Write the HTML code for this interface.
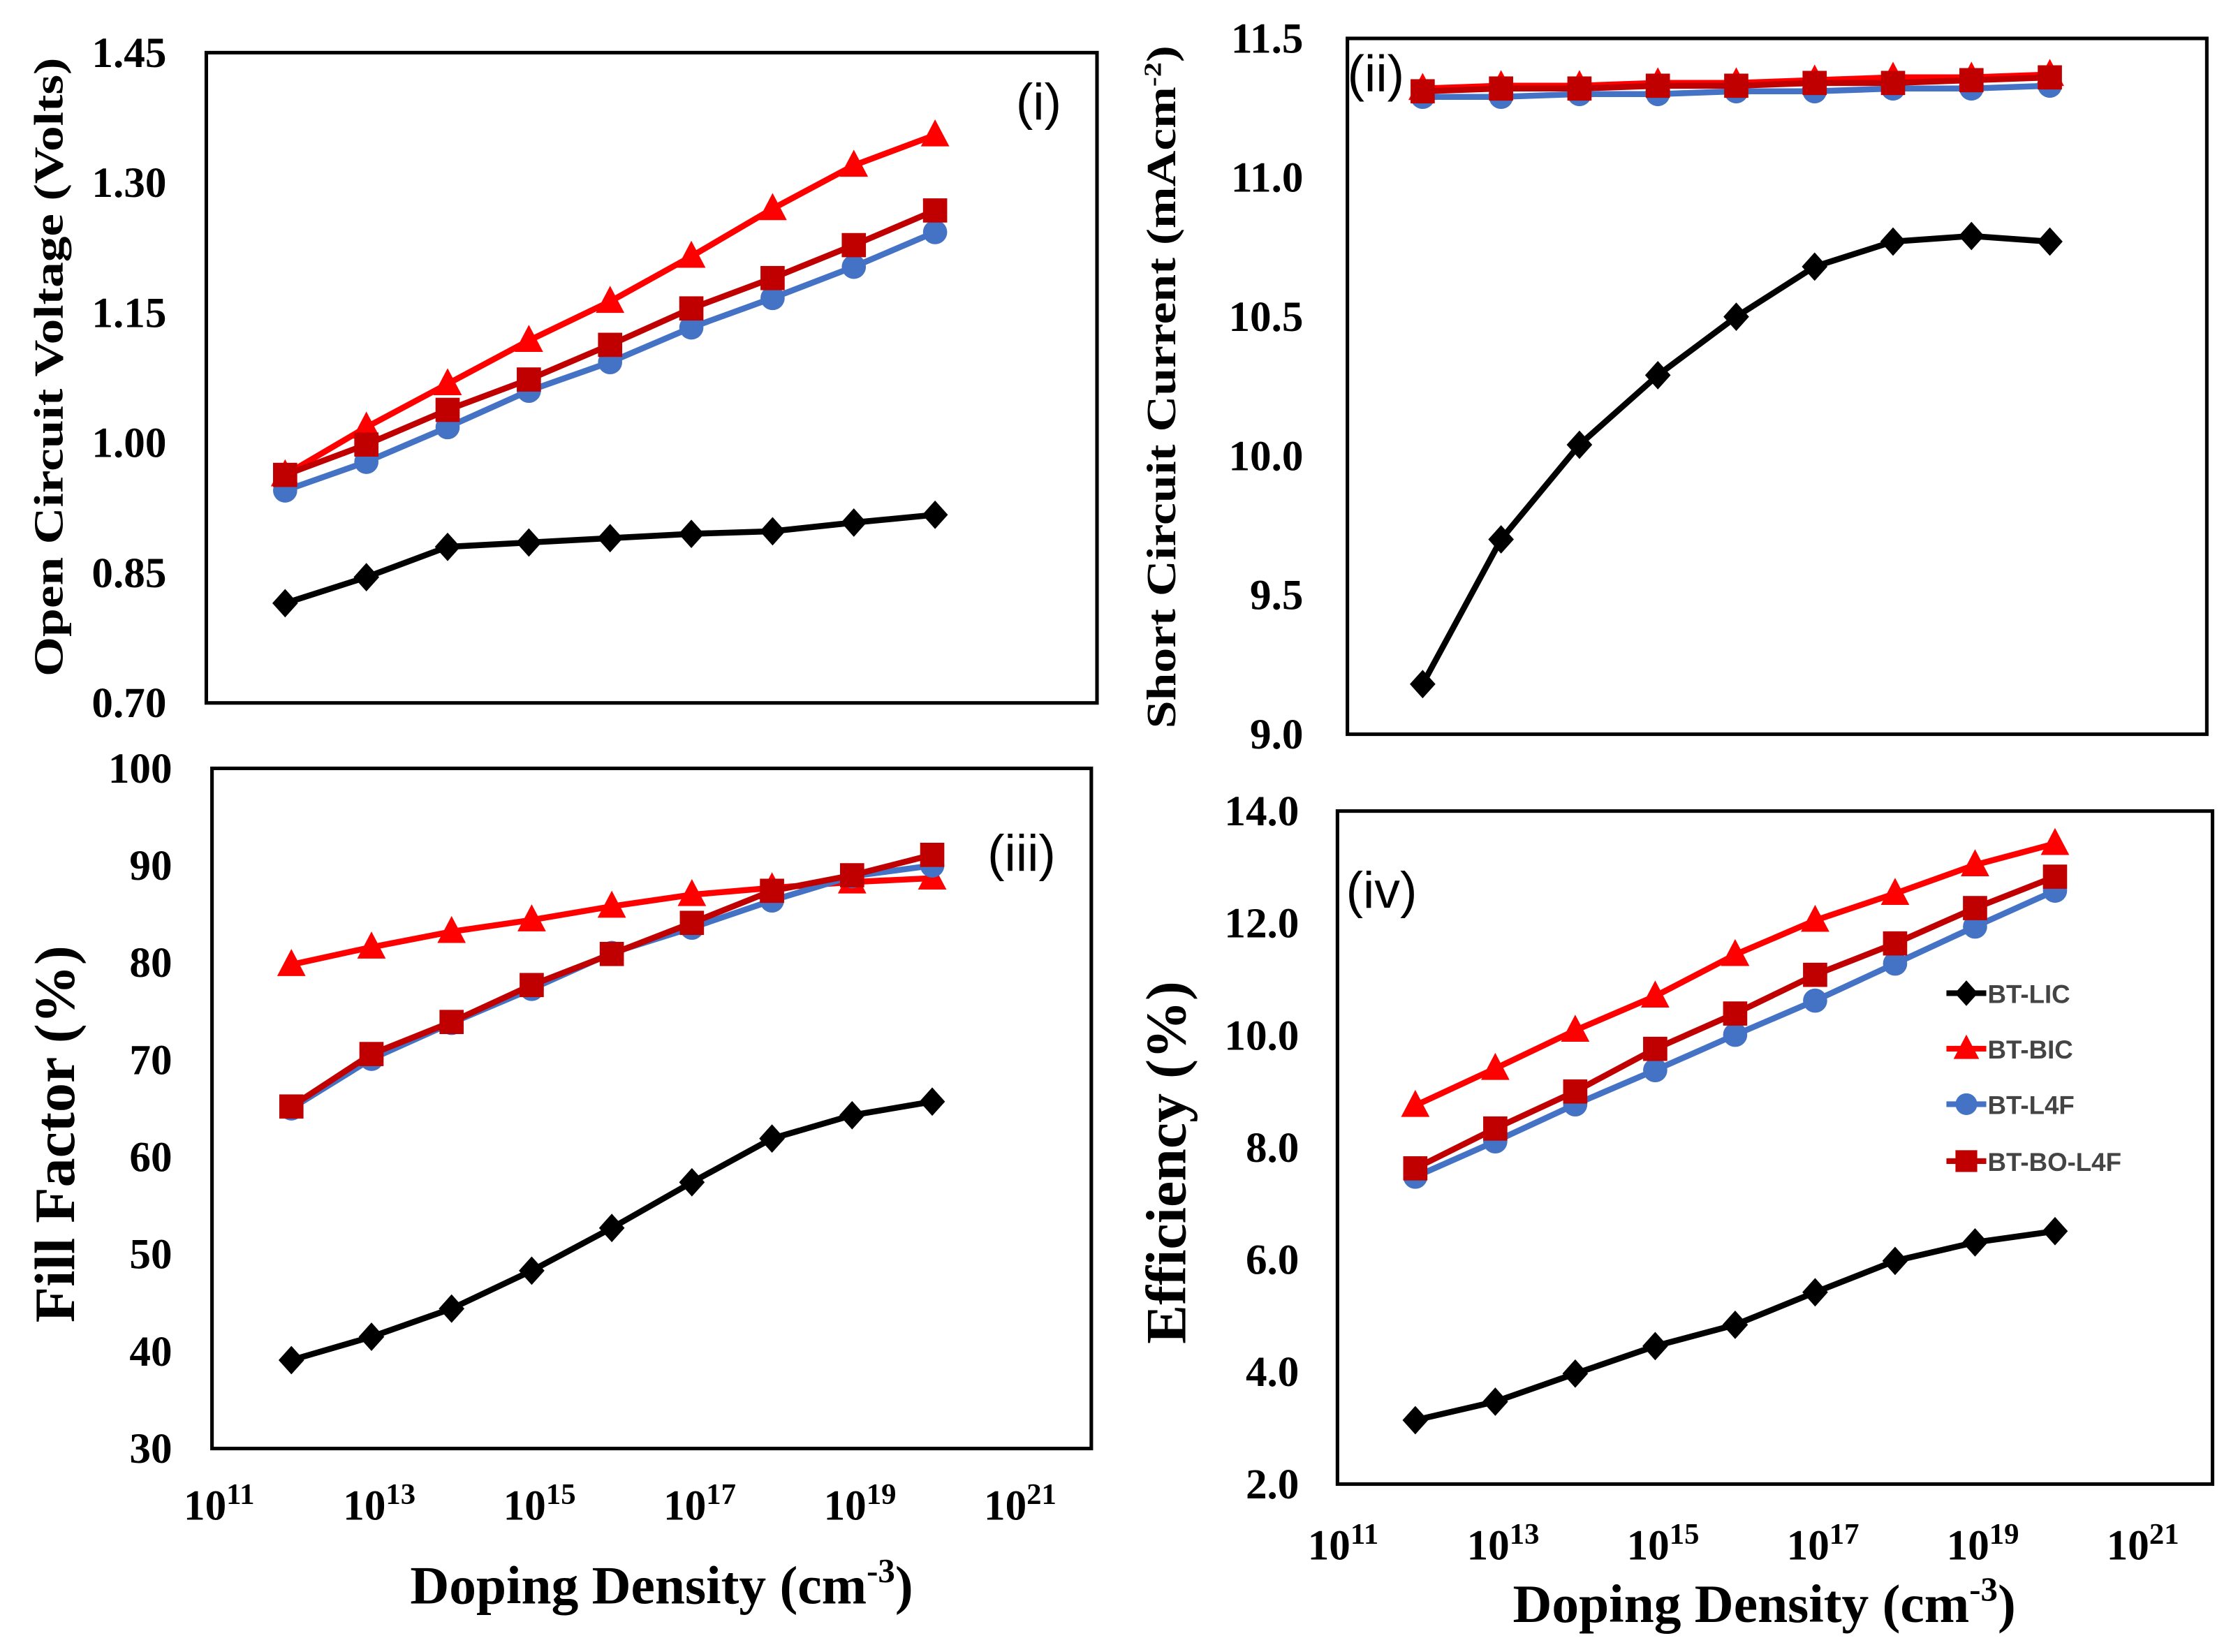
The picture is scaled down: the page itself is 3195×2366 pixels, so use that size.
<!DOCTYPE html>
<html><head><meta charset="utf-8"><style>
html,body{margin:0;padding:0;background:#fff;}
svg{display:block;}
.tick{font-family:"Liberation Serif",serif;font-weight:bold;font-size:30px;fill:#000;}
.ttl{font-family:"Liberation Serif",serif;font-weight:bold;fill:#000;}
.pl{font-family:"Liberation Sans",sans-serif;font-size:36px;fill:#000;}
.leg{font-family:"Liberation Sans",sans-serif;font-weight:bold;font-size:18px;fill:#444;}
</style></head><body>
<svg id="chart" width="3195" height="2366" viewBox="0 0 1568 1161" preserveAspectRatio="none" xmlns="http://www.w3.org/2000/svg"></svg>
<script>
// shared x data: log10 doping density
const dopingExp = [11.76,12.76,13.76,14.76,15.76,16.76,17.76,18.76,19.76];
const seriesNames = ["BT-LIC","BT-BIC","BT-L4F","BT-BO-L4F"];
// panel i: Voc
const vocLIC = [0.815,0.845,0.880,0.885,0.890,0.895,0.898,0.908,0.917];
const vocBIC = [0.963,1.018,1.068,1.118,1.163,1.215,1.270,1.320,1.355];
const vocL4F = [0.945,0.978,1.018,1.060,1.093,1.133,1.167,1.203,1.243];
const vocBO  = [0.963,0.998,1.038,1.073,1.113,1.155,1.190,1.228,1.268];
const vocTicks = ["0.70","0.85","1.00","1.15","1.30","1.45"];
// panel ii: Jsc
const jscLIC = [9.18,9.70,10.04,10.29,10.50,10.68,10.77,10.79,10.77];
const jscBIC = [11.32,11.33,11.33,11.34,11.34,11.35,11.36,11.36,11.37];
const jscL4F = [11.29,11.29,11.30,11.30,11.31,11.31,11.32,11.32,11.33];
const jscBO  = [11.31,11.32,11.32,11.33,11.33,11.34,11.34,11.35,11.36];
const jscTicks = ["9.0","9.5","10.0","10.5","11.0","11.5"];
// panel iii: FF
const ffLIC = [39.1,41.5,44.4,48.3,52.7,57.4,61.9,64.3,65.7];
const ffBIC = [79.8,81.6,83.2,84.4,85.8,87.0,87.7,88.3,88.7];
const ffL4F = [65.0,70.1,73.8,77.3,81.0,83.6,86.4,88.9,90.0];
const ffBO  = [65.2,70.6,73.9,77.7,80.9,84.1,87.4,89.0,91.1];
const ffTicks = ["30","40","50","60","70","80","90","100"];
// panel iv: efficiency
const effLIC = [3.14,3.47,3.97,4.46,4.84,5.42,5.98,6.31,6.51];
const effBIC = [8.75,9.41,10.09,10.70,11.44,12.05,12.53,13.04,13.42];
const effL4F = [7.48,8.11,8.77,9.38,10.01,10.62,11.28,11.94,12.58];
const effBO  = [7.63,8.34,9.00,9.76,10.39,11.08,11.64,12.27,12.83];
const effTicks = ["2.0","4.0","6.0","8.0","10.0","12.0","14.0"];
const xTickExp = [11,13,15,17,19,21];

const NS="http://www.w3.org/2000/svg";
const svg=document.getElementById('chart');
function mk(tag,attrs,parent){const e=document.createElementNS(NS,tag);for(const k in attrs)e.setAttribute(k,attrs[k]);(parent||svg).appendChild(e);return e;}
const colors=["#000000","#ff0000","#4472c4","#c00000"];
const shapes=["diamond","triangle","circle","square"];

function marker(g,shape,x,y,c,s){
  s=s||1;
  let e;
  if(shape==="diamond") e=mk('polygon',{points:`${x},${y-10*s} ${x+9*s},${y} ${x},${y+10*s} ${x-9*s},${y}`,fill:c},g);
  else if(shape==="triangle") e=mk('polygon',{points:`${x},${y-11*s} ${x+10*s},${y+8*s} ${x-10*s},${y+8*s}`,fill:c},g);
  else if(shape==="circle") e=mk('circle',{cx:x,cy:y,r:8.5*s,fill:c},g);
  else e=mk('rect',{x:x-8.5*s,y:y-8.5*s,width:17*s,height:17*s,fill:c},g);
  return e;
}

function panel(p){
  const g=mk('g',{});
  
  
  const xs=e=>p.x0+(e-11)*p.dec;
  const ys=v=>p.bot-(v-p.ymin)/(p.ymax-p.ymin)*(p.bot-p.top);
  const fr=mk('rect',{x:p.l,y:p.top,width:p.r-p.l,height:p.bot-p.top,fill:'none',stroke:'#000','stroke-width':2.5},g);
  
  
  p.ticks.forEach(t=>{
    const tx=mk('text',{x:p.tickX,y:ys(parseFloat(t))+10,'text-anchor':'end',class:'tick'},g);
    tx.textContent=t;
    
    
  });
  if(p.xLabY){
    xTickExp.forEach(e=>{
      const tx=mk('text',{x:xs(e)-8,y:p.xLabY,'text-anchor':'middle',class:'tick'},g);
      tx.innerHTML='10<tspan dy="-11" font-size="21">'+e+'</tspan>';
      
      
    });
  }
  const yt=mk('text',{transform:`translate(${p.ytX},${p.ytY}) rotate(-90)`,'text-anchor':'middle',class:'ttl','font-size':p.ytSize,textLength:p.ytLen,lengthAdjust:'spacingAndGlyphs'},g);
  yt.innerHTML=p.ytitle;
  
  
  const pl=mk('text',{x:p.plX,y:p.plY,class:'pl'},g);
  pl.textContent=p.label;
  
  
  p.series.forEach((vals,si)=>{
    const sg=mk('g',{},g);
    
    
    const pts=vals.map((v,i)=>xs(dopingExp[i])+','+ys(v)).join(' ');
    const ln=mk('polyline',{points:pts,fill:'none',stroke:colors[si],'stroke-width':4.2,'stroke-linejoin':'round'},sg);
    
    
    vals.forEach((v,i)=>{
      const m=marker(sg,shapes[si],xs(dopingExp[i]),ys(v),colors[si]);
      
      
    });
  });
}

panel({name:'panel-i-voc',l:145,r:771,top:37,bot:494,ymin:0.70,ymax:1.45,x0:157,dec:57.1,ticks:vocTicks,tickX:117,
  ytitle:'Open Circuit Voltage (Volts)',ytX:44,ytY:258,ytSize:29,ytLen:435,label:'(i)',plX:714,plY:84,
  series:[vocLIC,vocBIC,vocL4F,vocBO]});
panel({name:'panel-ii-jsc',l:947,r:1551,top:27,bot:516,ymin:9.0,ymax:11.5,x0:958,dec:55.1,ticks:jscTicks,tickX:916,
  ytitle:'Short Circuit Current (mAcm<tspan dy="-10" font-size="17">-2</tspan><tspan dy="10">)</tspan>',ytX:826,ytY:272,ytSize:29,ytLen:480,label:'(ii)',plX:947,plY:64,
  series:[jscLIC,jscBIC,jscL4F,jscBO]});
panel({name:'panel-iii-fill-factor',l:149,r:767,top:540,bot:1018,ymin:30,ymax:100,x0:162,dec:56.3,ticks:ffTicks,tickX:121,
  ytitle:'Fill Factor (%)',ytX:52,ytY:797,ytSize:40,ytLen:265,label:'(iii)',plX:694,plY:612,xLabY:1068,
  series:[ffLIC,ffBIC,ffL4F,ffBO]});
panel({name:'panel-iv-efficiency',l:940,r:1555,top:570,bot:1043,ymin:2,ymax:14,x0:952,dec:56.2,ticks:effTicks,tickX:913,
  ytitle:'Efficiency (%)',ytX:833,ytY:817,ytSize:40,ytLen:255,label:'(iv)',plX:946,plY:638,xLabY:1096,
  series:[effLIC,effBIC,effL4F,effBO]});

// x-axis titles
[[465,1127],[1240,1140]].forEach(([x,y])=>{
  const t=mk('text',{x:x,y:y,'text-anchor':'middle',class:'ttl','font-size':38});
  t.innerHTML='Doping Density (cm<tspan dy="-15" font-size="24">-3</tspan><tspan dy="15">)</tspan>';
  
  
});

// legend
const lg=mk('g',{});


const legY=[698,737,776,816];
seriesNames.forEach((n,i)=>{
  const eg=mk('g',{},lg);
  
  
  mk('line',{x1:1368,y1:legY[i],x2:1396,y2:legY[i],stroke:colors[i],'stroke-width':4},eg);
  marker(eg,shapes[i],1382,legY[i],colors[i],0.9);
  const t=mk('text',{x:1397,y:legY[i]+7,class:'leg'},eg);
  t.textContent=n;
});
</script>
</body></html>
